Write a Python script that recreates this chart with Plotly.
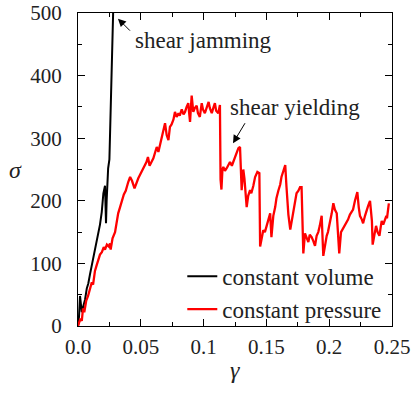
import plotly.graph_objects as go

# constant volume (black)
cv_gamma = [0, 0.0008, 0.0016, 0.0022, 0.003, 0.004, 0.0056, 0.007, 0.0082, 0.0095,
            0.0109, 0.012, 0.0135, 0.015, 0.0162, 0.0175, 0.0189, 0.0202, 0.0215, 0.0223,
            0.0228, 0.0234, 0.024, 0.025, 0.0255, 0.026, 0.0268, 0.0275, 0.0281]
cv_sigma = [0, 15, 48, 30, 22, 30, 42, 60, 68, 82,
            96, 104, 120, 136, 148, 162, 182, 212, 224, 164,
            200, 232, 252, 266, 308, 350, 414, 460, 510]

# constant pressure (red)
cp_gamma = [0, 0.002, 0.003, 0.004, 0.005, 0.0065, 0.008, 0.0095, 0.011, 0.012,
            0.0135, 0.015, 0.0165, 0.0175, 0.019, 0.0205, 0.0215, 0.023, 0.0245, 0.0255,
            0.026, 0.0275, 0.0295, 0.031, 0.032, 0.0335, 0.035, 0.0365, 0.038, 0.039,
            0.040, 0.0415, 0.043, 0.045, 0.0465, 0.048, 0.049, 0.0505, 0.052, 0.053,
            0.0545, 0.0557, 0.057, 0.0585, 0.060, 0.0615, 0.0627, 0.064, 0.0655, 0.0666,
            0.068, 0.0693, 0.0706, 0.072, 0.0732, 0.0745, 0.076, 0.0772, 0.0785, 0.080,
            0.081, 0.0826, 0.084, 0.0852, 0.0865, 0.0878, 0.0885, 0.0892, 0.0905, 0.0918,
            0.093, 0.0945, 0.0955, 0.097, 0.0985, 0.0995, 0.101, 0.1025, 0.104, 0.105,
            0.1065, 0.108, 0.109, 0.110, 0.1117, 0.113, 0.1135, 0.1142, 0.115, 0.1157,
            0.117, 0.1184, 0.120, 0.121, 0.1225, 0.1237, 0.125, 0.1263, 0.1277, 0.129,
            0.1297, 0.1303, 0.1316, 0.1325, 0.1343, 0.1355, 0.137, 0.138, 0.1396, 0.141,
            0.1428, 0.1444, 0.145, 0.1462, 0.1475, 0.1488, 0.150, 0.1515, 0.153, 0.154,
            0.1555, 0.157, 0.158, 0.1595, 0.161, 0.162, 0.1635, 0.165, 0.166, 0.1675,
            0.169, 0.1705, 0.1715, 0.173, 0.174, 0.1755, 0.1768, 0.178, 0.1787, 0.1794,
            0.1807, 0.182, 0.1834, 0.1845, 0.186, 0.1873, 0.1887, 0.190, 0.1913, 0.1925,
            0.194, 0.1953, 0.1965, 0.198, 0.199, 0.2006, 0.202, 0.2033, 0.2045, 0.206,
            0.207, 0.208, 0.2094, 0.211, 0.2126, 0.214, 0.215, 0.2165, 0.218, 0.219,
            0.2205, 0.2224, 0.2235, 0.2245, 0.226, 0.227, 0.2285, 0.2298, 0.231, 0.2325,
            0.2335, 0.234, 0.2346, 0.236, 0.2373, 0.2385, 0.240, 0.241, 0.2418, 0.243,
            0.2444, 0.2455, 0.246, 0.247, 0.2475]
cp_sigma = [0, 12, 8, 28, 22, 40, 48, 58, 70, 66,
            88, 98, 108, 114, 118, 126, 122, 130, 127, 132,
            122, 140, 150, 168, 180, 190, 201, 210, 216, 224,
            230, 238, 232, 220, 230, 236, 240, 246, 250, 256,
            262, 270, 256, 262, 268, 278, 286, 278, 292, 302,
            312, 324, 305, 297, 318, 322, 330, 342, 334, 340,
            336, 346, 338, 342, 350, 356, 340, 326, 368, 342,
            348, 352, 340, 334, 356, 346, 340, 350, 358, 348,
            340, 350, 356, 344, 340, 353, 234, 218, 250, 254,
            248, 252, 258, 262, 256, 262, 270, 278, 284, 286,
            254, 217, 250, 236, 190, 208, 217, 212, 224, 238,
            246, 244, 127, 142, 153, 150, 160, 172, 180, 142,
            176, 190, 204, 216, 226, 238, 246, 257, 222, 178,
            154, 170, 186, 200, 212, 216, 222, 222, 160, 116,
            148, 140, 134, 146, 142, 136, 128, 144, 150, 160,
            176, 112, 130, 144, 150, 164, 180, 196, 186, 180,
            150, 116, 150, 156, 160, 166, 170, 178, 182, 186,
            200, 214, 190, 176, 170, 164, 176, 186, 192, 200,
            182, 168, 130, 148, 160, 150, 144, 158, 168, 162,
            170, 176, 172, 188, 196]

x_tickvals = [0, 0.05, 0.1, 0.15, 0.2, 0.25]
x_ticktext = ["0.0", "0.05", "0.1", "0.15", "0.2", "0.25"]
y_tickvals = [0, 100, 200, 300, 400, 500]

FONT = "Liberation Serif"
TXT = "#222222"

fig = go.Figure()
fig.add_trace(go.Scatter(x=cv_gamma, y=cv_sigma, mode="lines", name="constant volume",
                         line=dict(color="black", width=2)))
fig.add_trace(go.Scatter(x=cp_gamma, y=cp_sigma, mode="lines", name="constant pressure",
                         line=dict(color="#ff0000", width=2.3)))

axis_common = dict(showline=True, linecolor="black", linewidth=1, mirror="allticks",
                   ticks="inside", ticklen=7, tickcolor="black", showgrid=False,
                   zeroline=False, automargin=False,
                   tickfont=dict(family=FONT, size=21, color=TXT))

fig.update_xaxes(range=[0, 0.25], tickvals=x_tickvals, ticktext=x_ticktext,
                 minor=dict(ticks="inside", ticklen=4, dtick=0.025, tick0=0, tickcolor="black"),
                 ticklabelstandoff=2, **axis_common)
fig.update_yaxes(range=[0, 500], tickvals=y_tickvals,
                 minor=dict(ticks="inside", ticklen=4, dtick=50, tick0=0, tickcolor="black"),
                 ticklabelstandoff=11, **axis_common)

annots = [
    dict(x=0.0318, y=491, xref="x", yref="y", text=" ", showarrow=True, ax=15, ay=15,
         arrowhead=2, arrowsize=1.6, arrowwidth=1, arrowcolor="black"),
    dict(x=0.0438, y=456, xref="x", yref="y", text="shear jamming", showarrow=False,
         xanchor="left", yanchor="middle", font=dict(family=FONT, size=23, color=TXT)),
    dict(x=0.1234, y=292, xref="x", yref="y", text=" ", showarrow=True, ax=15, ay=-25,
         arrowhead=2, arrowsize=1.6, arrowwidth=1, arrowcolor="black"),
    dict(x=0.1194, y=349, xref="x", yref="y", text="shear yielding", showarrow=False,
         xanchor="left", yanchor="middle", font=dict(family=FONT, size=23, color=TXT)),
    dict(x=-0.2006, y=0.5, xref="paper", yref="paper", text="<i>σ</i>", showarrow=False,
         xanchor="center", yanchor="middle", font=dict(family=FONT, size=24, color=TXT)),
    dict(x=0.5, y=-0.14, xref="paper", yref="paper", text="<i>γ</i>", showarrow=False,
         xanchor="center", yanchor="middle", font=dict(family=FONT, size=24, color=TXT)),
]

fig.update_layout(
    width=412, height=393,
    margin=dict(l=78, r=20, t=13, b=67),
    paper_bgcolor="white", plot_bgcolor="white",
    annotations=annots,
    showlegend=True,
    legend=dict(x=0.985, y=-0.015, xanchor="right", yanchor="bottom", bgcolor="rgba(0,0,0,0)",
                borderwidth=0, itemwidth=30, tracegroupgap=0,
                font=dict(family=FONT, size=23, color=TXT)),
)

fig.write_html("out.html")
